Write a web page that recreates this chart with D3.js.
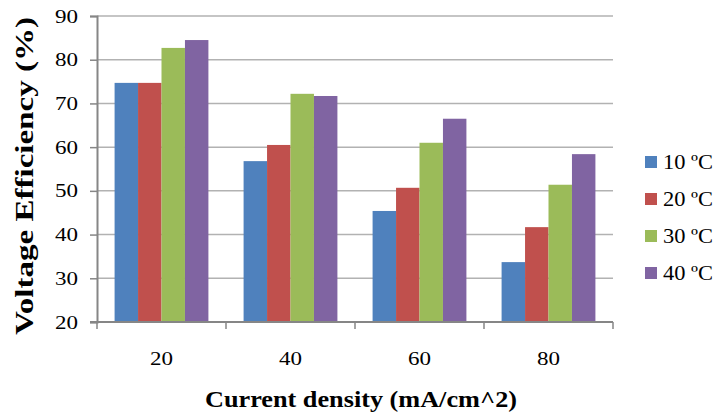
<!DOCTYPE html>
<html>
<head>
<meta charset="utf-8">
<script src="https://cdn.jsdelivr.net/npm/d3@7"></script>
<style>
  body { margin: 0; background: #fff; }
  svg { display: block; }
</style>
</head>
<body>
<svg id="chart" width="716" height="419"></svg>
<script>
const categories = ["20", "40", "60", "80"];
const series = ["10 ºC", "20 ºC", "30 ºC", "40 ºC"];
const colors = ["#4f81bd", "#c0504d", "#9bbb59", "#8064a2"];
const values10 = [74.7, 56.8, 45.4, 33.7];
const values20 = [74.7, 60.5, 50.7, 41.7];
const values30 = [82.7, 72.2, 61.0, 51.4];
const values40 = [84.5, 71.7, 66.5, 58.4];
const yTicks = [20, 30, 40, 50, 60, 70, 80, 90];

const allValues = [values10, values20, values30, values40];

const settings = {
  left: 97,
  right: 613,
  top: 16,
  bottom: 322,
  font: "'Liberation Serif', 'Times New Roman', serif",
};

const svg = d3.select("#chart").attr("font-family", settings.font);

const x = d3
  .scaleBand()
  .domain(categories)
  .range([settings.left, settings.right])
  .padding(0);

const xInner = d3
  .scaleBand()
  .domain(series)
  .range([0, x.bandwidth()])
  .paddingInner(0)
  .paddingOuter(0.75);

const y = d3
  .scaleLinear()
  .domain([20, 90])
  .range([settings.bottom, settings.top]);

// gridlines
svg
  .append("g")
  .attr("class", "grid")
  .selectAll("line")
  .data(yTicks.slice(1))
  .join("line")
  .attr("x1", settings.left)
  .attr("x2", settings.right)
  .attr("y1", (d) => y(d))
  .attr("y2", (d) => y(d))
  .attr("stroke", "#b2b2b2")
  .attr("stroke-width", 1.5);

// bars
const groups = svg
  .append("g")
  .attr("class", "bars")
  .selectAll("g")
  .data(series)
  .join("g")
  .attr("fill", (d, i) => colors[i]);

groups
  .selectAll("rect")
  .data((s, i) => categories.map((c, j) => ({ s, c, v: allValues[i][j] })))
  .join("rect")
  .attr("x", (d) => x(d.c) + xInner(d.s))
  .attr("width", xInner.bandwidth())
  .attr("y", (d) => y(d.v))
  .attr("height", (d) => y(20) - y(d.v));

// y axis
const yaxis = d3.axisLeft(y).tickValues(yTicks).tickSize(7).tickPadding(12);
svg
  .append("g")
  .attr("transform", `translate(${settings.left}, 0)`)
  .call(yaxis)
  .attr("font-family", settings.font)
  .call((g) => g.select(".domain").attr("stroke", "#868686").attr("stroke-width", 2))
  .call((g) => g.selectAll(".tick line").attr("stroke", "#868686").attr("stroke-width", 1.5))
  .call((g) =>
    g
      .selectAll(".tick text")
      .attr("x", -19)
      .attr("font-size", "19px")
      .attr("textLength", 23)
      .attr("lengthAdjust", "spacingAndGlyphs")
      .attr("fill", "#000")
  );

// x axis: ticks on category boundaries
const xaxisG = svg
  .append("g")
  .attr("transform", `translate(0, ${settings.bottom})`);
xaxisG
  .append("line")
  .attr("x1", settings.left - 7)
  .attr("x2", settings.right)
  .attr("stroke", "#868686")
  .attr("stroke-width", 2);
xaxisG
  .selectAll("line.tk")
  .data([...categories.map((c) => x(c)), settings.right])
  .join("line")
  .attr("class", "tk")
  .attr("x1", (d) => d)
  .attr("x2", (d) => d)
  .attr("y1", 0)
  .attr("y2", 7)
  .attr("stroke", "#868686")
  .attr("stroke-width", 1.5);
xaxisG
  .selectAll("text")
  .data(categories)
  .join("text")
  .attr("x", (d) => x(d) + x.bandwidth() / 2)
  .attr("y", 43)
  .attr("text-anchor", "middle")
  .attr("font-size", "19px")
  .attr("textLength", 23)
  .attr("lengthAdjust", "spacingAndGlyphs")
  .text((d) => d);

// axis titles
svg
  .append("text")
  .attr("x", 361)
  .attr("y", 407)
  .attr("text-anchor", "middle")
  .attr("font-size", "22.5px")
  .attr("font-weight", "bold")
  .attr("textLength", 312)
  .attr("lengthAdjust", "spacingAndGlyphs")
  .text("Current density (mA/cm^2)");

svg
  .append("text")
  .attr("transform", "translate(33, 176) rotate(-90)")
  .attr("text-anchor", "middle")
  .attr("font-size", "26px")
  .attr("font-weight", "bold")
  .attr("textLength", 318)
  .attr("lengthAdjust", "spacingAndGlyphs")
  .text("Voltage Efficiency (%)");

// legend
const legend = svg
  .append("g")
  .attr("class", "legend")
  .selectAll("g")
  .data(series)
  .join("g")
  .attr("transform", (d, i) => `translate(645, ${162 + i * 37})`);
legend
  .append("rect")
  .attr("x", 0)
  .attr("y", -6)
  .attr("width", 12)
  .attr("height", 12)
  .attr("fill", (d, i) => colors[i]);
legend
  .append("text")
  .attr("x", 18)
  .attr("y", 7)
  .attr("font-size", "20.5px")
  .attr("textLength", 50)
  .attr("lengthAdjust", "spacingAndGlyphs")
  .text((d) => d);
</script>
</body>
</html>
